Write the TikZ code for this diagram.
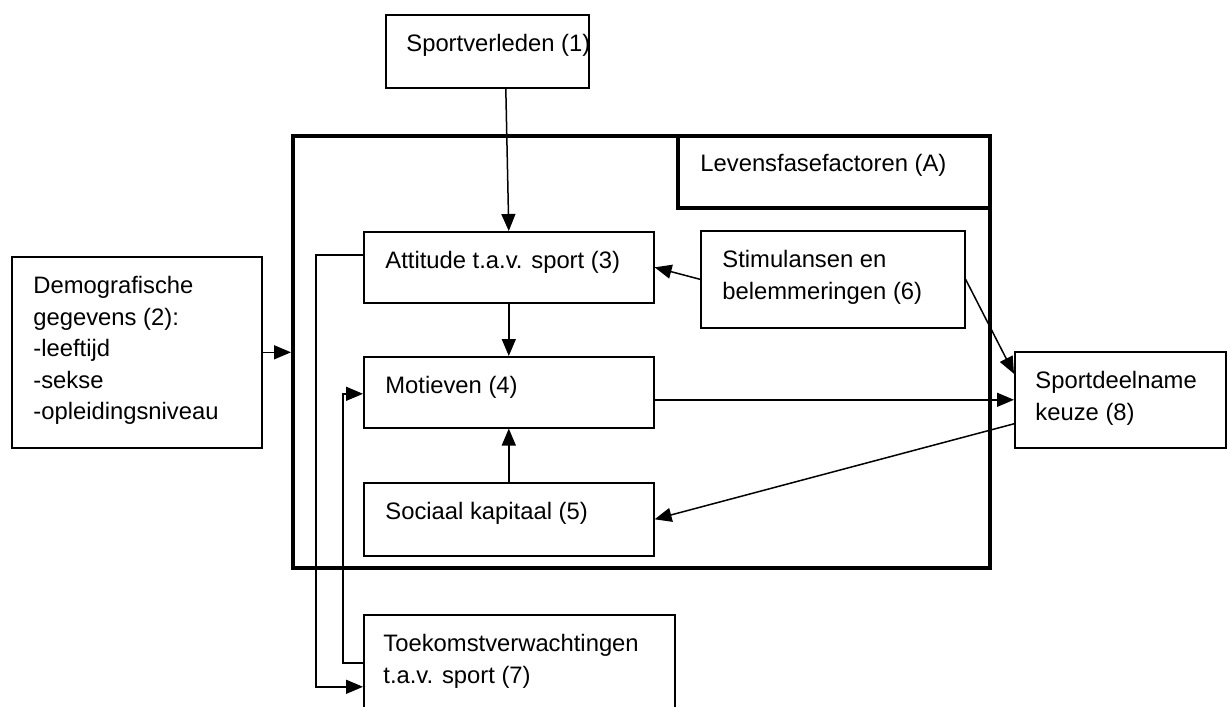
\documentclass[tikz,border=0pt]{standalone}
\usepackage{fontspec}
\setmainfont{Liberation Sans}
\usetikzlibrary{arrows.meta}
\newcommand{\boxfont}{\fontsize{11.9}{15.8}\selectfont}

\begin{document}
\begin{tikzpicture}[x=0.5pt, y=-0.5pt,
  box/.style={draw, line width=0.8pt, anchor=north west, inner sep=0pt},
  frame/.style={draw, line width=1.8pt, anchor=north west, inner sep=0pt},
  txt/.style={anchor=north west, inner sep=0pt, align=left, font=\boxfont},
  arr/.style={-{Triangle[length=8.5pt,width=7pt]}, line width=0.75pt}]
  \useasboundingbox (0,0) rectangle (1227,707);
  \clip (0,0) rectangle (1227,707);
  % Levensfase frame
  \node[frame, minimum width=348.5pt, minimum height=216pt] (big) at (291,134) {};
  \node[frame, anchor=north east, minimum width=156pt, minimum height=36pt] (lf) at (big.north east) {};
  \node[txt] (lf-txt) at ([shift={(12pt,-7.5pt)}]lf.north west) {\strut Levensfasefactoren (A)};
  % boxes
  \node[box, minimum width=101.5pt, minimum height=36.5pt] (sv) at (385,14) {};
  \node[box, minimum width=125pt, minimum height=95.5pt] (demo) at (11,256) {};
  \node[box, minimum width=145pt, minimum height=35.5pt] (att) at (363,231) {};
  \node[box, minimum width=132pt, minimum height=48.5pt] (stim) at (700,230) {};
  \node[box, minimum width=145pt, minimum height=35.5pt] (mot) at (363,356) {};
  \node[box, minimum width=145pt, minimum height=36.5pt] (soc) at (363,482) {};
  \node[box, minimum width=105.5pt, minimum height=48pt] (sport) at (1014,351) {};
  \node[box, minimum width=155.5pt, minimum height=58pt] (toek) at (363,614) {};
  % texts
  \node[txt] (sv-txt) at ([shift={(10.5pt,-7.5pt)}]sv.north west) {\strut Sportverleden (1)};
  \node[txt] (demo-txt) at ([shift={(11pt,-7.5pt)}]demo.north west)
    {\strut Demografische\\gegevens (2):\\-leeftijd\\-sekse\\-opleidingsniveau};
  \node[txt] (att-txt) at ([shift={(11pt,-7.5pt)}]att.north west) {\strut Attitude t.a.v. sport (3)};
  \node[txt] (stim-txt) at ([shift={(11pt,-7.5pt)}]stim.north west) {\strut Stimulansen en\\belemmeringen (6)};
  \node[txt] (mot-txt) at ([shift={(11pt,-7.5pt)}]mot.north west) {\strut Motieven (4)};
  \node[txt] (soc-txt) at ([shift={(11pt,-7.5pt)}]soc.north west) {\strut Sociaal kapitaal (5)};
  \node[txt] (sport-txt) at ([shift={(10.5pt,-7.5pt)}]sport.north west) {\strut Sportdeelname\\keuze (8)};
  \node[txt] (toek-txt) at ([shift={(10pt,-7.5pt)}]toek.north west) {\strut Toekomstverwachtingen\\t.a.v. sport (7)};
  % arrows
  \draw[arr] ([xshift=9.25pt]sv.south) -- (att.north);
  \draw[arr] (att.south) -- (mot.north);
  \draw[arr] (soc.north) -- (mot.south);
  \draw[arr] (stim.west) -- (att.east);
  \draw[arr] (stim.east) -- ([yshift=13pt]sport.west);
  \draw[arr] (sport.west -| mot.east) -- (sport.west);
  \draw[arr] ([yshift=-12pt]sport.west) -- (soc.east);
  \draw[arr] (demo.east) -- (demo.east -| big.west);
  \draw[arr] ([yshift=6.25pt]att.west) -- ++(-23.5pt,0) |- ([yshift=-7pt]toek.west);
  \draw[arr] ([yshift=5pt]toek.west) -- ++(-10pt,0) |- ([yshift=-0.75pt]mot.west);
\end{tikzpicture}
\end{document}
